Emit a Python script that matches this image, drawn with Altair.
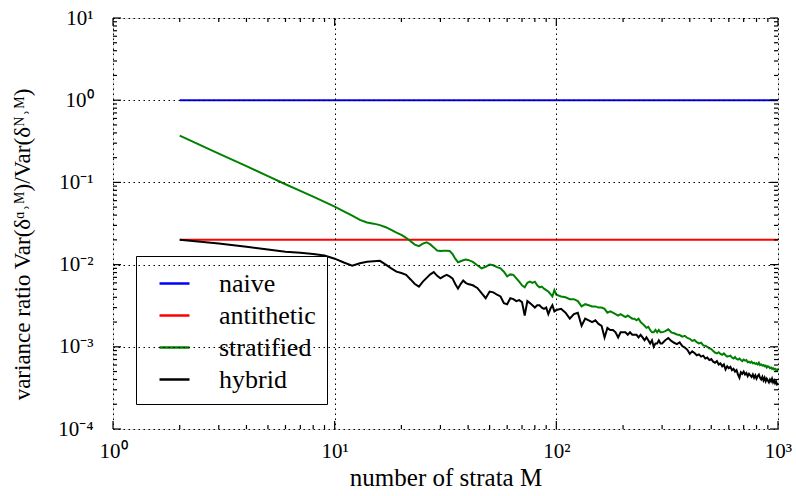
import altair as alt
import pandas as pd

# ---- values -------------------------------------------------------------
# number of strata M at which the variance ratios were evaluated
M_fine = list(range(2, 41))            # every M from 2 to 40
M_mid = list(range(42, 101, 2))        # every 2nd M up to 100
M_coarse = list(range(105, 301, 5))    # every 5th M up to 300
M_far = list(range(310, 1001, 10))     # every 10th M up to 1000
M_all = M_fine + M_mid + M_coarse + M_far

# constant estimators (only the end points are needed)
M_const = [2, 1000]
naive = [1.0, 1.0]
antithetic = [0.02, 0.02]

stratified = [
    # M = 2..40
    0.370, 0.224, 0.158, 0.119, 0.095, 0.079, 0.067, 0.058, 0.0506, 0.0445,
    0.0395, 0.0350, 0.0325, 0.0315, 0.0302, 0.0285, 0.0265, 0.0245, 0.0230, 0.0212,
    0.0192, 0.0175, 0.0168, 0.0180, 0.0187, 0.0176, 0.0162, 0.0148, 0.0146, 0.0147,
    0.0147, 0.0146, 0.0135, 0.0118, 0.0107, 0.0110, 0.0113, 0.0115, 0.0114,
    # M = 42..100 step 2
    0.0108, 0.0098, 0.0090, 0.0094, 0.0100, 0.0098, 0.0093, 0.0090, 0.0082, 0.0072,
    0.0076, 0.0075, 0.0068, 0.0062, 0.0056, 0.0053, 0.0060, 0.0062, 0.0060, 0.0062,
    0.0056, 0.0053, 0.0054, 0.0051, 0.0049, 0.0047, 0.0044, 0.0041, 0.0049, 0.0043,
    # M = 105..300 step 5
    0.0041, 0.0040, 0.0038, 0.0038, 0.0036, 0.0031, 0.0033, 0.0032, 0.0031, 0.0031,
    0.0030, 0.0030, 0.0029, 0.0026, 0.0027, 0.0026, 0.0025, 0.0024, 0.0025, 0.0024,
    0.0023, 0.0024, 0.0023, 0.0022, 0.0022, 0.0021, 0.0022, 0.0020, 0.0019, 0.0018,
    0.0017, 0.00175, 0.0016, 0.0015, 0.0015, 0.0016, 0.0015, 0.0016, 0.0015, 0.0015,
    # M = 310..1000 step 10
    0.00155, 0.00163, 0.00150, 0.00146, 0.00141, 0.00139, 0.00133, 0.00136, 0.00128, 0.00125,
    0.00118, 0.00121, 0.00114, 0.00110, 0.00112, 0.00104, 0.00103, 0.00100, 0.00096, 0.00094,
    0.00089, 0.00085, 0.00083, 0.00086, 0.00082, 0.00080, 0.00083, 0.00079, 0.00076, 0.00077,
    0.00078, 0.00074, 0.00072, 0.00075, 0.00071, 0.00070, 0.00072, 0.00069, 0.00067, 0.00070,
    0.00068, 0.00069, 0.00065, 0.00066, 0.00064, 0.00066, 0.00063, 0.00064, 0.00062, 0.00063,
    0.00061, 0.00064, 0.00060, 0.00061, 0.00059, 0.00060, 0.00058, 0.00059, 0.00056, 0.00058,
    0.00057, 0.00055, 0.00056, 0.00054, 0.00055, 0.00053, 0.00054, 0.00052, 0.00053, 0.00051,
]

hybrid = [
    # M = 2..40
    0.0200, 0.0180, 0.0165, 0.0153, 0.0143, 0.0139, 0.0135, 0.0129, 0.0118, 0.0106,
    0.0097, 0.0104, 0.0108, 0.0110, 0.0111, 0.0100, 0.0090, 0.0082, 0.0079, 0.0075,
    0.0066, 0.0058, 0.0054, 0.0062, 0.0069, 0.0076, 0.0081, 0.0073, 0.0068, 0.0072,
    0.0075, 0.0072, 0.0068, 0.0058, 0.0051, 0.0058, 0.0064, 0.0060, 0.0058,
    # M = 42..100 step 2
    0.0056, 0.0052, 0.0045, 0.0039, 0.0047, 0.0046, 0.0043, 0.0041, 0.0034, 0.0033,
    0.0039, 0.0038, 0.0036, 0.0037, 0.0035, 0.0024, 0.0036, 0.0034, 0.0032, 0.0030,
    0.0032, 0.0032, 0.0030, 0.0029, 0.0030, 0.0025, 0.0029, 0.0032, 0.0027, 0.0028,
    # M = 105..300 step 5
    0.0029, 0.0026, 0.0022, 0.0025, 0.0026, 0.0018, 0.0022, 0.0021, 0.0020, 0.0021,
    0.0019, 0.0018, 0.0013, 0.0017, 0.0016, 0.0016, 0.0015, 0.0013, 0.0015, 0.0015,
    0.0015, 0.0014, 0.0015, 0.0014, 0.0014, 0.0014, 0.0013, 0.0014, 0.0013, 0.0012,
    0.0013, 0.0012, 0.0011, 0.0012, 0.0010, 0.0011, 0.0011, 0.0012, 0.0011, 0.0011,
    # M = 310..1000 step 10
    0.00120, 0.00128, 0.00118, 0.00112, 0.00108, 0.00113, 0.00102, 0.00098, 0.00092, 0.00082,
    0.00088, 0.00084, 0.00079, 0.00081, 0.00076, 0.00078, 0.00072, 0.00074, 0.00069, 0.00071,
    0.00066, 0.00064, 0.00067, 0.00061, 0.00063, 0.00058, 0.00061, 0.00053, 0.00058, 0.00055,
    0.00057, 0.00052, 0.00054, 0.00050, 0.00052, 0.00046, 0.00042, 0.00049, 0.00047, 0.00050,
    0.00046, 0.00048, 0.00044, 0.00047, 0.00045, 0.00043, 0.00046, 0.00042, 0.00045, 0.00041,
    0.00044, 0.00046, 0.00042, 0.00040, 0.00043, 0.00039, 0.00042, 0.00038, 0.00041, 0.00039,
    0.00037, 0.00040, 0.00038, 0.00041, 0.00037, 0.00039, 0.00036, 0.00038, 0.00035, 0.00036,
]

series_names = ["naive", "antithetic", "stratified", "hybrid"]
series_colors = ["#0000ff", "#ff0000", "#008000", "#000000"]

x_major = [1, 10, 100, 1000]
y_major = [1e-4, 1e-3, 1e-2, 1e-1, 1e0, 1e1]
x_minor = [m * 10 ** d for d in range(0, 3) for m in range(2, 10)]
y_minor = [m * 10.0 ** d for d in range(-4, 1) for m in range(2, 10)]

# ---- tables -------------------------------------------------------------
rows = []
for name, ms, vals in [
    ("naive", M_const, naive),
    ("antithetic", M_const, antithetic),
    ("stratified", M_all, stratified),
    ("hybrid", M_all, hybrid),
]:
    for m, v in zip(ms, vals):
        rows.append({"M": m, "ratio": v, "method": name})
df = pd.DataFrame(rows)

x_ticks_major = pd.DataFrame({"v": x_major})
x_ticks_minor = pd.DataFrame({"v": x_minor})
y_ticks_major = pd.DataFrame({"v": y_major})
y_ticks_minor = pd.DataFrame({"v": y_minor})

# ---- layout -------------------------------------------------------------
W, H = 665, 411
FONT = "Liberation Serif"
MAJOR_LEN, MINOR_LEN = 8, 4

x_scale = alt.Scale(type="log", domain=[1, 1000], nice=False)
y_scale = alt.Scale(type="log", domain=[1e-4, 10], nice=False)

sup_x = "'10' + ['⁰','¹','²','³'][round(log(datum.value)/LN10)]"
sup_y = "'10' + ['⁻⁴','⁻³','⁻²','⁻¹','⁰','¹'][round(log(datum.value)/LN10) + 4]"

# dotted grid drawn above the curves
grid_style = dict(grid=True, gridColor="black", gridDash=[1.5, 3.5],
                  gridWidth=1, gridOpacity=1, zindex=1)

lines = alt.Chart(df).mark_line(strokeWidth=2).encode(
    x=alt.X("M:Q", scale=x_scale, axis=alt.Axis(
        orient="bottom", values=x_major, labelExpr=sup_x, ticks=False, tickSize=0,
        domain=False, labelFont=FONT, labelFontSize=21, labelColor="black",
        labelPadding=11, labelFlush=False, title="number of strata M",
        titleFont=FONT, titleFontSize=25, titleFontWeight="normal",
        titleColor="black", titleBaseline="alphabetic", titleY=56,
        **grid_style)),
    y=alt.Y("ratio:Q", scale=y_scale, axis=alt.Axis(
        orient="left", values=y_major, labelExpr=sup_y, ticks=False, tickSize=0,
        domain=False, labelFont=FONT, labelFontSize=21, labelColor="black",
        labelPadding=20, labelFlush=False,
        title="variance ratio Var(δᵅ˒ᴹ)/Var(δᴺ˒ᴹ)",
        titleFont=FONT, titleFontSize=23, titleFontWeight="normal",
        titleColor="black", titleBaseline="alphabetic", titleX=-84, titleY=226,
        **grid_style)),
    color=alt.Color("method:N", scale=alt.Scale(domain=series_names, range=series_colors),
                    sort=series_names, legend=alt.Legend(
                        orient="none", legendX=23, legendY=238, title=None,
                        fillColor="white", strokeColor="black", padding=11,
                        cornerRadius=0, symbolType="stroke", symbolSize=900,
                        symbolStrokeWidth=2.5, symbolOffset=11, labelOffset=28,
                        labelFont=FONT, labelFontSize=26, labelColor="black",
                        rowPadding=2, labelLimit=300)),
    order=alt.Order("M:Q"),
)


def x_ticks(data, length):
    """Inward x ticks on the bottom and top edges of the frame."""
    base = alt.Chart(data).mark_rule(color="black", strokeWidth=1.2)
    xenc = alt.X("v:Q", scale=x_scale, axis=None)
    bottom = base.encode(x=xenc, y=alt.value(H), y2=alt.value(H - length))
    top = base.encode(x=xenc, y=alt.value(0), y2=alt.value(length))
    return [bottom, top]


def y_ticks(data, length):
    """Inward y ticks on the left and right edges of the frame."""
    base = alt.Chart(data).mark_rule(color="black", strokeWidth=1.2)
    yenc = alt.Y("v:Q", scale=y_scale, axis=None)
    left = base.encode(y=yenc, x=alt.value(0), x2=alt.value(length))
    right = base.encode(y=yenc, x=alt.value(W), x2=alt.value(W - length))
    return [left, right]


tick_layers = (
    x_ticks(x_ticks_major, MAJOR_LEN) + x_ticks(x_ticks_minor, MINOR_LEN)
    + y_ticks(y_ticks_major, MAJOR_LEN) + y_ticks(y_ticks_minor, MINOR_LEN)
)

# axes stay independent so the tick layers (axis=None) do not remove the
# labelled axes of the line layer; the scales themselves remain shared
chart = alt.layer(lines, *tick_layers).resolve_axis(
    x="independent", y="independent"
).properties(
    width=W, height=H,
    autosize=alt.AutoSizeParams(type="none"),
    padding={"left": 113, "top": 18, "right": 18, "bottom": 67},
).configure_view(
    stroke="black", strokeWidth=1.5
).configure(background="white")

chart.save("out.html", embed_options={"renderer": "svg", "actions": False})
